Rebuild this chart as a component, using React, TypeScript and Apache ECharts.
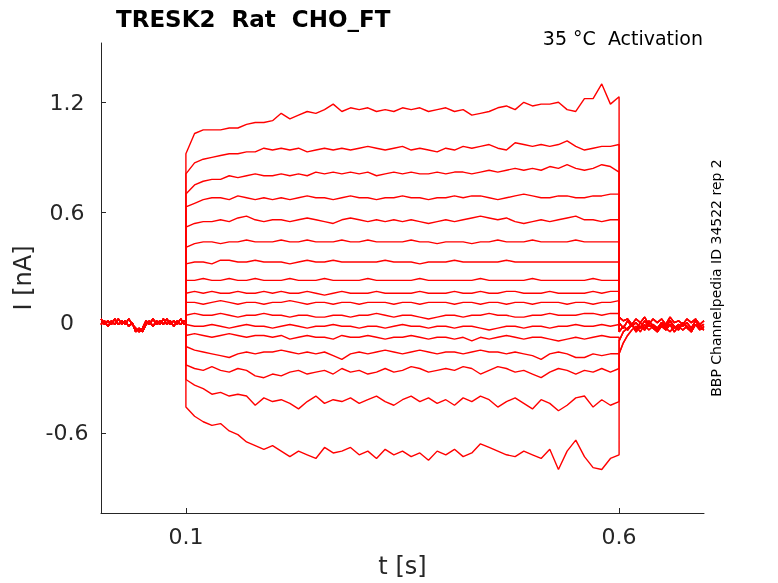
import { useEffect, useRef } from 'react'
import * as echarts from 'echarts'

// tick values
const xTicks = [0.1, 0.6]
const yTicks = [-0.6, 0, 0.6, 1.2]

// holding current before the step (t = 0.002 .. 0.1, every 4 ms)
const baseA = [0.02, -0.01, 0.01, -0.01, 0.02, -0.01, 0.01, -0.01, 0.02, -0.01, -0.03, -0.05, -0.03, 0.01, -0.01, 0.02, -0.01, 0.01, -0.01, 0.02, -0.01, 0.01, -0.01, 0.02, -0.01, 0.0]
const baseB = [-0.01, 0.01, -0.02, 0.01, -0.01, 0.02, -0.01, 0.01, -0.02, 0.0, -0.05, -0.03, -0.05, -0.01, 0.01, -0.02, 0.01, -0.01, 0.02, -0.01, 0.01, -0.02, 0.01, -0.01, 0.01, 0.0]

// tail currents after the step (t = 0.6 .. 0.698)
const tailA = [0.03, 0.01, 0.02, -0.01, 0.02, 0.0, 0.03, -0.01, 0.02, 0.0, 0.02, -0.01, 0.03, 0.0, 0.01, -0.01, 0.02, 0.0, 0.02, -0.01, 0.01]
const tailB = [0.0, -0.03, 0.01, -0.02, 0.0, -0.03, 0.01, -0.02, -0.01, -0.03, 0.0, -0.02, 0.01, -0.03, -0.01, -0.02, 0.0, -0.03, 0.01, -0.02, -0.01]
const tailC = [-0.05, -0.02, -0.04, -0.01, -0.05, -0.02, -0.04, -0.01, -0.03, -0.05, -0.02, -0.04, -0.01, -0.05, -0.02, -0.04, -0.02, -0.05, -0.01, -0.03, -0.04]
const tailD = [-0.1, -0.05, -0.03, -0.01, -0.04, 0.0, -0.03, 0.01, -0.02, -0.04, 0.0, -0.03, 0.01, -0.02, -0.04, 0.0, -0.02, -0.04, 0.01, -0.02, -0.03]
const tailE = [-0.17, -0.11, -0.07, -0.04, -0.02, -0.05, -0.01, -0.04, -0.02, -0.05, -0.01, -0.03, -0.05, -0.02, -0.04, 0.0, -0.03, -0.05, -0.01, -0.04, -0.02]

// currents during the step (t = 0.1 .. 0.6, every 10 ms), nA
const trace01 = [0.92, 1.03, 1.05, 1.05, 1.05, 1.06, 1.06, 1.08, 1.09, 1.09, 1.1, 1.14, 1.11, 1.13, 1.15, 1.14, 1.16, 1.19, 1.15, 1.17, 1.16, 1.17, 1.15, 1.16, 1.15, 1.17, 1.16, 1.17, 1.15, 1.16, 1.17, 1.15, 1.16, 1.13, 1.14, 1.15, 1.17, 1.18, 1.16, 1.2, 1.18, 1.19, 1.19, 1.2, 1.16, 1.15, 1.22, 1.22, 1.3, 1.19, 1.23]
const trace02 = [0.81, 0.87, 0.89, 0.9, 0.91, 0.92, 0.92, 0.93, 0.93, 0.95, 0.94, 0.95, 0.94, 0.95, 0.93, 0.94, 0.95, 0.94, 0.95, 0.94, 0.95, 0.96, 0.95, 0.94, 0.95, 0.96, 0.94, 0.95, 0.94, 0.93, 0.95, 0.94, 0.96, 0.95, 0.96, 0.97, 0.95, 0.94, 0.98, 0.97, 0.96, 0.97, 0.96, 0.97, 0.99, 0.96, 0.94, 0.95, 0.96, 0.96, 0.97]
const trace03 = [0.7, 0.75, 0.77, 0.78, 0.78, 0.8, 0.79, 0.8, 0.81, 0.8, 0.8, 0.81, 0.8, 0.81, 0.8, 0.82, 0.81, 0.82, 0.81, 0.82, 0.81, 0.82, 0.8, 0.81, 0.82, 0.81, 0.82, 0.81, 0.81, 0.82, 0.81, 0.82, 0.82, 0.81, 0.82, 0.83, 0.82, 0.83, 0.84, 0.83, 0.84, 0.83, 0.85, 0.84, 0.86, 0.84, 0.83, 0.84, 0.86, 0.85, 0.82]
const trace04 = [0.63, 0.65, 0.67, 0.68, 0.68, 0.67, 0.69, 0.68, 0.67, 0.68, 0.67, 0.68, 0.67, 0.68, 0.69, 0.68, 0.68, 0.67, 0.68, 0.69, 0.68, 0.68, 0.67, 0.68, 0.68, 0.69, 0.68, 0.68, 0.67, 0.68, 0.68, 0.69, 0.68, 0.69, 0.69, 0.68, 0.67, 0.68, 0.69, 0.7, 0.69, 0.68, 0.68, 0.69, 0.69, 0.68, 0.68, 0.69, 0.69, 0.7, 0.7]
const trace05 = [0.52, 0.54, 0.55, 0.55, 0.56, 0.55, 0.57, 0.58, 0.56, 0.55, 0.56, 0.56, 0.55, 0.56, 0.57, 0.56, 0.55, 0.54, 0.56, 0.57, 0.56, 0.55, 0.56, 0.55, 0.56, 0.55, 0.56, 0.55, 0.54, 0.55, 0.56, 0.55, 0.56, 0.57, 0.58, 0.57, 0.56, 0.57, 0.55, 0.54, 0.55, 0.56, 0.55, 0.56, 0.57, 0.58, 0.56, 0.56, 0.55, 0.56, 0.56]
const trace06 = [0.41, 0.43, 0.44, 0.44, 0.43, 0.44, 0.44, 0.45, 0.44, 0.44, 0.44, 0.45, 0.44, 0.44, 0.45, 0.44, 0.44, 0.44, 0.45, 0.44, 0.44, 0.45, 0.44, 0.44, 0.44, 0.44, 0.45, 0.44, 0.44, 0.43, 0.44, 0.44, 0.44, 0.43, 0.44, 0.44, 0.45, 0.44, 0.44, 0.44, 0.45, 0.44, 0.44, 0.44, 0.44, 0.45, 0.44, 0.44, 0.44, 0.44, 0.44]
const trace07 = [0.32, 0.33, 0.33, 0.32, 0.34, 0.34, 0.33, 0.33, 0.34, 0.33, 0.33, 0.33, 0.32, 0.33, 0.34, 0.33, 0.33, 0.34, 0.33, 0.33, 0.33, 0.33, 0.33, 0.34, 0.33, 0.33, 0.33, 0.32, 0.33, 0.33, 0.33, 0.34, 0.33, 0.33, 0.33, 0.33, 0.33, 0.34, 0.33, 0.33, 0.33, 0.33, 0.33, 0.33, 0.33, 0.33, 0.33, 0.33, 0.33, 0.33, 0.33]
const trace08 = [0.23, 0.23, 0.24, 0.23, 0.23, 0.24, 0.23, 0.23, 0.24, 0.23, 0.23, 0.23, 0.24, 0.23, 0.23, 0.23, 0.24, 0.23, 0.23, 0.23, 0.23, 0.24, 0.23, 0.23, 0.23, 0.23, 0.23, 0.24, 0.23, 0.23, 0.23, 0.23, 0.23, 0.23, 0.24, 0.23, 0.23, 0.23, 0.23, 0.23, 0.24, 0.23, 0.23, 0.23, 0.23, 0.23, 0.23, 0.24, 0.23, 0.23, 0.23]
const trace09 = [0.16, 0.17, 0.16, 0.17, 0.16, 0.16, 0.17, 0.16, 0.16, 0.17, 0.16, 0.17, 0.16, 0.16, 0.17, 0.16, 0.15, 0.16, 0.17, 0.16, 0.16, 0.16, 0.17, 0.16, 0.16, 0.16, 0.16, 0.17, 0.16, 0.16, 0.16, 0.17, 0.16, 0.16, 0.17, 0.16, 0.16, 0.17, 0.17, 0.16, 0.16, 0.16, 0.17, 0.16, 0.16, 0.16, 0.16, 0.17, 0.16, 0.17, 0.17]
const trace10 = [0.11, 0.11, 0.1, 0.11, 0.12, 0.11, 0.1, 0.11, 0.11, 0.1, 0.11, 0.11, 0.12, 0.11, 0.1, 0.11, 0.11, 0.1, 0.11, 0.11, 0.1, 0.11, 0.11, 0.11, 0.1, 0.11, 0.11, 0.1, 0.11, 0.11, 0.11, 0.1, 0.11, 0.11, 0.1, 0.11, 0.11, 0.1, 0.11, 0.11, 0.1, 0.11, 0.11, 0.11, 0.1, 0.11, 0.11, 0.1, 0.11, 0.11, 0.12]
const trace11 = [0.04, 0.05, 0.04, 0.04, 0.05, 0.04, 0.03, 0.04, 0.04, 0.05, 0.04, 0.04, 0.03, 0.04, 0.04, 0.03, 0.03, 0.04, 0.04, 0.03, 0.04, 0.04, 0.05, 0.04, 0.03, 0.04, 0.04, 0.03, 0.02, 0.03, 0.04, 0.04, 0.03, 0.04, 0.04, 0.05, 0.04, 0.04, 0.03, 0.03, 0.04, 0.04, 0.05, 0.04, 0.04, 0.04, 0.05, 0.05, 0.04, 0.05, 0.05]
const trace12 = [-0.01, -0.02, -0.02, -0.01, -0.02, -0.03, -0.02, -0.01, -0.02, -0.02, -0.03, -0.02, -0.01, -0.02, -0.03, -0.02, -0.02, -0.01, -0.02, -0.02, -0.03, -0.02, -0.02, -0.03, -0.02, -0.01, -0.02, -0.02, -0.03, -0.02, -0.02, -0.03, -0.02, -0.02, -0.03, -0.04, -0.03, -0.02, -0.02, -0.03, -0.02, -0.02, -0.03, -0.02, -0.02, -0.01, -0.02, -0.02, -0.01, -0.02, -0.01]
const trace13 = [-0.07, -0.06, -0.07, -0.08, -0.07, -0.06, -0.07, -0.08, -0.07, -0.07, -0.08, -0.07, -0.09, -0.08, -0.07, -0.08, -0.08, -0.09, -0.07, -0.08, -0.08, -0.07, -0.08, -0.09, -0.08, -0.08, -0.07, -0.08, -0.09, -0.08, -0.08, -0.09, -0.08, -0.1, -0.08, -0.09, -0.08, -0.07, -0.08, -0.09, -0.08, -0.08, -0.09, -0.1, -0.09, -0.08, -0.09, -0.08, -0.07, -0.08, -0.08]
const trace14 = [-0.13, -0.15, -0.16, -0.17, -0.18, -0.19, -0.17, -0.16, -0.17, -0.16, -0.16, -0.15, -0.16, -0.17, -0.16, -0.17, -0.16, -0.18, -0.2, -0.17, -0.16, -0.17, -0.16, -0.15, -0.16, -0.17, -0.16, -0.15, -0.16, -0.17, -0.16, -0.16, -0.17, -0.16, -0.15, -0.16, -0.16, -0.17, -0.16, -0.17, -0.18, -0.2, -0.17, -0.16, -0.17, -0.19, -0.19, -0.17, -0.18, -0.17, -0.17]
const trace15 = [-0.23, -0.25, -0.26, -0.24, -0.26, -0.27, -0.25, -0.26, -0.29, -0.3, -0.28, -0.29, -0.27, -0.26, -0.28, -0.27, -0.26, -0.28, -0.25, -0.27, -0.26, -0.28, -0.27, -0.25, -0.27, -0.26, -0.24, -0.25, -0.27, -0.26, -0.25, -0.26, -0.24, -0.25, -0.28, -0.26, -0.24, -0.25, -0.27, -0.26, -0.28, -0.3, -0.27, -0.25, -0.26, -0.28, -0.26, -0.27, -0.25, -0.27, -0.25]
const trace16 = [-0.31, -0.34, -0.36, -0.39, -0.38, -0.4, -0.39, -0.4, -0.45, -0.41, -0.43, -0.42, -0.44, -0.47, -0.43, -0.4, -0.44, -0.42, -0.43, -0.41, -0.44, -0.42, -0.4, -0.43, -0.45, -0.42, -0.4, -0.43, -0.41, -0.44, -0.42, -0.45, -0.41, -0.43, -0.4, -0.42, -0.46, -0.43, -0.41, -0.44, -0.47, -0.42, -0.44, -0.48, -0.45, -0.41, -0.4, -0.46, -0.42, -0.45, -0.43]
const trace17 = [-0.46, -0.51, -0.54, -0.56, -0.55, -0.59, -0.61, -0.65, -0.67, -0.69, -0.67, -0.7, -0.73, -0.7, -0.72, -0.74, -0.68, -0.71, -0.7, -0.68, -0.72, -0.7, -0.74, -0.69, -0.72, -0.7, -0.73, -0.71, -0.75, -0.7, -0.72, -0.69, -0.73, -0.71, -0.66, -0.68, -0.7, -0.72, -0.73, -0.7, -0.72, -0.74, -0.69, -0.8, -0.7, -0.64, -0.73, -0.79, -0.8, -0.74, -0.72]

const traces = [trace01, trace02, trace03, trace04, trace05, trace06, trace07, trace08, trace09, trace10, trace11, trace12, trace13, trace14, trace15, trace16, trace17]
const traceTails = [tailA, tailA, tailA, tailA, tailB, tailB, tailB, tailB, tailC, tailC, tailC, tailC, tailD, tailD, tailD, tailE, tailE]

const FONT = 'DejaVu Sans'
const INK = '#262626'

function sweep(pulse: number[], base: number[], tail: number[]) {
  const pts: number[][] = []
  base.forEach((v, i) => pts.push([Math.min(0.002 + i * 0.004, 0.1), v]))
  pulse.forEach((v, i) => pts.push([0.1 + i * 0.01, v]))
  tail.forEach((v, i) => pts.push([0.6 + i * 0.0049, v]))
  return pts
}

export default function App() {
  const chartRef = useRef<HTMLDivElement>(null)

  useEffect(() => {
    if (!chartRef.current) return
    const chart = echarts.init(chartRef.current, null, { renderer: 'svg' })

    const option: any = {
      animation: false,
      textStyle: { fontFamily: FONT },
      title: {
        text: 'TRESK2  Rat  CHO_FT',
        left: 111,
        top: 2,
        textStyle: { fontFamily: FONT, fontSize: 23, fontWeight: 'bold', color: '#000' }
      },
      grid: { left: 101, right: 74, top: 43, bottom: 70, containLabel: false },
      xAxis: {
        type: 'value',
        min: 0.002,
        max: 0.698,
        name: 't [s]',
        nameLocation: 'middle',
        nameGap: 41,
        nameTextStyle: { fontFamily: FONT, fontSize: 24, color: INK },
        axisLine: { show: true, onZero: false, lineStyle: { color: INK, width: 1 } },
        axisTick: { show: true, inside: true, length: 5, customValues: xTicks, lineStyle: { color: INK } },
        axisLabel: { customValues: xTicks, fontSize: 22, color: INK, margin: 12, formatter: (v: number) => String(v) },
        splitLine: { show: false }
      },
      yAxis: {
        type: 'value',
        min: -1.037,
        max: 1.523,
        name: 'I [nA]',
        nameLocation: 'middle',
        nameGap: 58,
        nameTextStyle: { fontFamily: FONT, fontSize: 24, color: INK },
        axisLine: { show: true, onZero: false, lineStyle: { color: INK, width: 1 } },
        axisTick: { show: true, inside: true, length: 5, customValues: yTicks, lineStyle: { color: INK } },
        axisLabel: { customValues: yTicks, fontSize: 22, color: INK, margin: 34, align: 'center', formatter: (v: number) => String(v) },
        splitLine: { show: false }
      },
      graphic: [
        {
          type: 'text',
          right: 75,
          top: 28,
          style: { text: '35 °C  Activation', fontFamily: FONT, fontSize: 19, fill: '#000' }
        },
        {
          type: 'text',
          x: 716,
          y: 278,
          rotation: Math.PI / 2,
          style: {
            text: 'BBP Channelpedia ID 34522 rep 2',
            fontFamily: FONT,
            fontSize: 14,
            fill: '#000',
            align: 'center',
            verticalAlign: 'middle'
          }
        }
      ],
      series: traces.map((pulse, k) => ({
        type: 'line',
        data: sweep(pulse, k % 2 === 0 ? baseA : baseB, traceTails[k]),
        showSymbol: false,
        silent: true,
        lineStyle: { color: '#ff0000', width: 1.4 }
      }))
    }

    chart.setOption(option)

    return () => {
      chart.dispose()
    }
  }, [])

  return (
    <div
      ref={chartRef}
      style={{ position: 'fixed', left: 0, top: 0, width: '778px', height: '583px' }}
    />
  )
}
